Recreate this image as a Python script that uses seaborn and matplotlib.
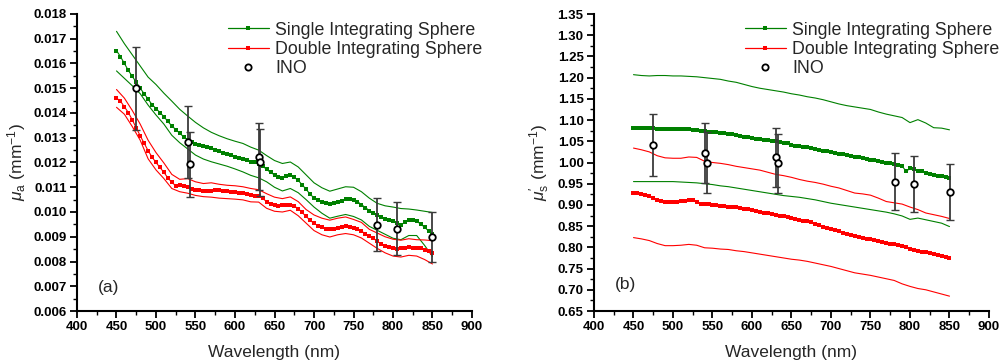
import numpy as np
import pandas as pd
import matplotlib
matplotlib.use("Agg")
import matplotlib.pyplot as plt
from matplotlib.ticker import MultipleLocator, FormatStrFormatter
from matplotlib.lines import Line2D
import seaborn as sns

# ---------------- data ----------------
WL = list(range(450, 855, 5))        # centre curves (marker every 5 nm)
WL_BAND = list(range(450, 860, 10))  # bound curves

# (a) absorption
SIS_A = [0.01652, 0.01628, 0.01600, 0.01572, 0.01548, 0.01524, 0.01500, 0.01478, 0.01456, 0.01434,
         0.01418, 0.01402, 0.01385, 0.01366, 0.01348, 0.01333, 0.01318, 0.01304, 0.01292, 0.01284,
         0.01276, 0.01270, 0.01266, 0.01263, 0.01258, 0.01250, 0.01246, 0.01240, 0.01234, 0.01229,
         0.01224, 0.01220, 0.01216, 0.01210, 0.01204, 0.01200, 0.01195, 0.01186, 0.01172, 0.01160,
         0.01150, 0.01142, 0.01138, 0.01145, 0.01149, 0.01140, 0.01128, 0.01110, 0.01092, 0.01072,
         0.01057, 0.01048, 0.01041, 0.01036, 0.01034, 0.01036, 0.01041, 0.01046, 0.01052, 0.01053,
         0.01048, 0.01042, 0.01030, 0.01018, 0.01006, 0.00996, 0.00988, 0.00978, 0.00970, 0.00966,
         0.00962, 0.00955, 0.00948, 0.00958, 0.00966, 0.00968, 0.00962, 0.00952, 0.00938, 0.00924,
         0.00910]
SIS_A_UP = [0.01730, 0.01680, 0.01635, 0.01590, 0.01545, 0.01515, 0.01480, 0.01448, 0.01415, 0.01388,
            0.01362, 0.01340, 0.01322, 0.01308, 0.01296, 0.01286, 0.01277, 0.01262, 0.01250, 0.01228,
            0.01208, 0.01196, 0.01202, 0.01182, 0.01150, 0.01118, 0.01098, 0.01084, 0.01093, 0.01102,
            0.01100, 0.01082, 0.01056, 0.01035, 0.01025, 0.01020, 0.01014, 0.01012, 0.01008, 0.01003,
            0.00998]
SIS_A_LO = [0.01570, 0.01540, 0.01510, 0.01478, 0.01432, 0.01392, 0.01355, 0.01310, 0.01280, 0.01255,
            0.01230, 0.01214, 0.01203, 0.01194, 0.01185, 0.01174, 0.01162, 0.01148, 0.01138, 0.01122,
            0.01100, 0.01085, 0.01095, 0.01078, 0.01050, 0.01020, 0.00995, 0.00975, 0.00983, 0.00990,
            0.00982, 0.00968, 0.00942, 0.00926, 0.00910, 0.00894, 0.00888, 0.00905, 0.00905, 0.00865,
            0.00820]
DIS_A = [0.01460, 0.01448, 0.01425, 0.01402, 0.01372, 0.01340, 0.01308, 0.01278, 0.01248, 0.01222,
         0.01200, 0.01180, 0.01160, 0.01138, 0.01120, 0.01106, 0.01110, 0.01106, 0.01100, 0.01092,
         0.01088, 0.01087, 0.01086, 0.01085, 0.01086, 0.01087, 0.01087, 0.01086, 0.01084, 0.01081,
         0.01079, 0.01077, 0.01075, 0.01072, 0.01068, 0.01066, 0.01064, 0.01055, 0.01042, 0.01033,
         0.01028, 0.01026, 0.01028, 0.01030, 0.01030, 0.01024, 0.01014, 0.00998, 0.00982, 0.00967,
         0.00954, 0.00945, 0.00938, 0.00932, 0.00930, 0.00932, 0.00937, 0.00941, 0.00942, 0.00940,
         0.00937, 0.00932, 0.00923, 0.00912, 0.00902, 0.00893, 0.00882, 0.00871, 0.00862, 0.00857,
         0.00854, 0.00852, 0.00853, 0.00856, 0.00857, 0.00856, 0.00855, 0.00853, 0.00848, 0.00842,
         0.00836]
DIS_A_UP = [0.01495, 0.01460, 0.01410, 0.01355, 0.01290, 0.01240, 0.01198, 0.01152, 0.01132, 0.01135,
            0.01122, 0.01115, 0.01118, 0.01112, 0.01108, 0.01106, 0.01102, 0.01095, 0.01090, 0.01074,
            0.01060, 0.01054, 0.01061, 0.01042, 0.01010, 0.00988, 0.00975, 0.00967, 0.00975, 0.00980,
            0.00970, 0.00958, 0.00930, 0.00915, 0.00900, 0.00890, 0.00886, 0.00892, 0.00888, 0.00887,
            0.00884]
DIS_A_LO = [0.01423, 0.01395, 0.01345, 0.01290, 0.01215, 0.01170, 0.01135, 0.01095, 0.01082, 0.01076,
            0.01067, 0.01062, 0.01060, 0.01056, 0.01054, 0.01052, 0.01049, 0.01041, 0.01040, 0.01015,
            0.01003, 0.01000, 0.01007, 0.00985, 0.00955, 0.00925, 0.00908, 0.00899, 0.00908, 0.00913,
            0.00908, 0.00895, 0.00874, 0.00853, 0.00835, 0.00822, 0.00818, 0.00825, 0.00822, 0.00808,
            0.00790]
INO_WL_A = [475, 540, 543, 630, 632, 780, 805, 850]
INO_A = [0.01500, 0.01283, 0.01192, 0.01223, 0.01200, 0.00949, 0.00933, 0.00900]
INO_A_ERR = [0.00168, 0.00145, 0.00133, 0.00136, 0.00135, 0.00106, 0.00106, 0.00102]

# (b) reduced scattering
SIS_B = [1.082, 1.081, 1.081, 1.081, 1.081, 1.081, 1.080, 1.080, 1.080, 1.079,
         1.079, 1.079, 1.078, 1.078, 1.078, 1.077, 1.076, 1.075, 1.074, 1.073,
         1.072, 1.071, 1.070, 1.069, 1.067, 1.066, 1.064, 1.063, 1.061, 1.059,
         1.058, 1.056, 1.055, 1.053, 1.052, 1.051, 1.050, 1.049, 1.047, 1.045,
         1.042, 1.040, 1.038, 1.037, 1.036, 1.034, 1.031, 1.030, 1.028, 1.026,
         1.024, 1.022, 1.021, 1.019, 1.017, 1.015, 1.014, 1.012, 1.010, 1.009,
         1.007, 1.005, 1.003, 1.001, 0.999, 0.998, 0.996, 0.994, 0.992, 0.979,
         0.986, 0.984, 0.981, 0.979, 0.976, 0.974, 0.971, 0.968, 0.968, 0.967,
         0.963]
SIS_B_UP = [1.207, 1.205, 1.204, 1.205, 1.205, 1.204, 1.204, 1.203, 1.202, 1.200,
            1.198, 1.196, 1.192, 1.189, 1.184, 1.179, 1.175, 1.172, 1.169, 1.166,
            1.162, 1.159, 1.155, 1.152, 1.148, 1.143, 1.138, 1.134, 1.131, 1.128,
            1.125, 1.119, 1.114, 1.110, 1.106, 1.094, 1.101, 1.093, 1.082, 1.081,
            1.077]
SIS_B_LO = [0.955, 0.955, 0.955, 0.955, 0.955, 0.955, 0.954, 0.953, 0.952, 0.950,
            0.948, 0.945, 0.943, 0.940, 0.937, 0.934, 0.931, 0.928, 0.925, 0.922,
            0.920, 0.918, 0.915, 0.912, 0.908, 0.904, 0.901, 0.898, 0.895, 0.892,
            0.889, 0.886, 0.883, 0.879, 0.874, 0.866, 0.869, 0.865, 0.861, 0.857,
            0.849]
DIS_B = [0.929, 0.927, 0.925, 0.923, 0.920, 0.916, 0.912, 0.909, 0.908, 0.908,
         0.908, 0.908, 0.909, 0.910, 0.911, 0.911, 0.906, 0.902, 0.902, 0.902,
         0.901, 0.900, 0.898, 0.897, 0.896, 0.895, 0.894, 0.893, 0.891, 0.890,
         0.888, 0.886, 0.884, 0.882, 0.881, 0.879, 0.877, 0.875, 0.873, 0.871,
         0.869, 0.867, 0.865, 0.863, 0.861, 0.859, 0.856, 0.852, 0.849, 0.846,
         0.843, 0.841, 0.838, 0.834, 0.831, 0.829, 0.827, 0.825, 0.822, 0.820,
         0.819, 0.817, 0.815, 0.813, 0.811, 0.809, 0.807, 0.805, 0.803, 0.800,
         0.797, 0.794, 0.792, 0.790, 0.788, 0.786, 0.784, 0.782, 0.780, 0.778,
         0.776]
DIS_B_UP = [1.034, 1.030, 1.025, 1.016, 1.011, 1.010, 1.010, 1.013, 1.012, 1.003,
            1.000, 0.998, 0.995, 0.991, 0.988, 0.985, 0.982, 0.977, 0.972, 0.969,
            0.965, 0.960, 0.956, 0.953, 0.949, 0.944, 0.940, 0.934, 0.928, 0.926,
            0.923, 0.916, 0.908, 0.905, 0.902, 0.895, 0.889, 0.881, 0.877, 0.873,
            0.868]
DIS_B_LO = [0.823, 0.820, 0.816, 0.809, 0.804, 0.804, 0.805, 0.807, 0.805, 0.799,
            0.798, 0.796, 0.795, 0.792, 0.790, 0.787, 0.784, 0.781, 0.778, 0.775,
            0.772, 0.770, 0.767, 0.763, 0.759, 0.755, 0.750, 0.745, 0.740, 0.737,
            0.734, 0.730, 0.726, 0.722, 0.714, 0.708, 0.703, 0.700, 0.695, 0.690,
            0.685]
INO_WL_B = [475, 540, 543, 631, 633, 781, 805, 851]
INO_B = [1.041, 1.022, 1.000, 1.012, 0.998, 0.955, 0.949, 0.930]
INO_B_ERR = [0.073, 0.071, 0.071, 0.070, 0.070, 0.067, 0.066, 0.066]

TICK_X = [400, 450, 500, 550, 600, 650, 700, 750, 800, 850, 900]

# ---------------- style ----------------
sns.set_theme(style="ticks")
plt.rcParams["font.family"] = ["Liberation Sans", "DejaVu Sans"]
plt.rcParams["mathtext.fontset"] = "custom"
plt.rcParams["mathtext.rm"] = "Liberation Sans"
plt.rcParams["mathtext.it"] = "Liberation Sans:italic"
plt.rcParams["mathtext.bf"] = "Liberation Sans:bold"

GREEN = "#008000"
RED = "#ff0000"
EBAR = "#3a3a3a"
MS = 2.2

fig = plt.figure(figsize=(10.03, 3.62), dpi=100)
ax_a = fig.add_axes([77 / 1003, 51 / 362, 395 / 1003, 297 / 362])
ax_b = fig.add_axes([594 / 1003, 51 / 362, 395 / 1003, 297 / 362])


def panel(ax, c_s, up_s, lo_s, c_d, up_d, lo_d, ino_x, ino_y, ino_e):
    for y, col in ((up_s, GREEN), (lo_s, GREEN), (up_d, RED), (lo_d, RED)):
        sns.lineplot(x=WL_BAND, y=y, ax=ax, color=col, lw=0.8, estimator=None, sort=False)
    sns.lineplot(x=WL, y=c_s, ax=ax, color=GREEN, lw=0.8, marker="s", markersize=MS,
                 markeredgewidth=0, estimator=None, sort=False)
    sns.lineplot(x=WL, y=c_d, ax=ax, color=RED, lw=0.8, marker="s", markersize=MS,
                 markeredgewidth=0, estimator=None, sort=False)
    ax.errorbar(ino_x, ino_y, yerr=ino_e, fmt="none", ecolor=EBAR, elinewidth=1.3,
                capsize=3, capthick=1.0, zorder=4)
    sns.scatterplot(x=ino_x, y=ino_y, ax=ax, marker="o", s=22, facecolor="white",
                    edgecolor="black", linewidth=1.3, zorder=5)
    ax.set_xlim(400, 900)
    ax.set_xticks(TICK_X)
    ax.xaxis.set_minor_locator(MultipleLocator(25))
    for s in ("top", "right"):
        ax.spines[s].set_visible(False)
    for s in ("left", "bottom"):
        ax.spines[s].set_linewidth(1.5)
        ax.spines[s].set_color("black")
    ax.tick_params(which="major", direction="out", length=5, width=1.3, labelsize=9.5,
                   colors="black", pad=2.5)
    ax.tick_params(which="minor", direction="out", length=3, width=1.0, colors="black")
    for lab in ax.get_xticklabels() + ax.get_yticklabels():
        lab.set_fontweight("bold")
    ax.set_xlabel("Wavelength (nm)", fontsize=12.5, labelpad=8)
    handles = [
        Line2D([], [], color=GREEN, lw=0.9, marker="s", markersize=MS + 0.4, markeredgewidth=0),
        Line2D([], [], color=RED, lw=0.9, marker="s", markersize=MS + 0.4, markeredgewidth=0),
        Line2D([], [], lw=0, marker="o", markersize=4.5, markerfacecolor="white",
               markeredgecolor="black", markeredgewidth=1.3),
    ]
    ax.legend(handles, ["Single Integrating Sphere", "Double Integrating Sphere", "INO"],
              loc="upper left", bbox_to_anchor=(0.355, 1.01), frameon=False, fontsize=12.8,
              handlelength=2.3, handletextpad=0.35, labelspacing=0.12, borderaxespad=0.2)


panel(ax_a, SIS_A, SIS_A_UP, SIS_A_LO, DIS_A, DIS_A_UP, DIS_A_LO, INO_WL_A, INO_A, INO_A_ERR)
ax_a.set_ylim(0.006, 0.018)
ax_a.yaxis.set_major_locator(MultipleLocator(0.001))
ax_a.yaxis.set_minor_locator(MultipleLocator(0.0005))
ax_a.yaxis.set_major_formatter(FormatStrFormatter("%.3f"))
for lab in ax_a.get_yticklabels():
    lab.set_fontweight("bold")
ax_a.set_ylabel(r"$\mu_{\rm a}$ (mm$^{-1}$)", fontsize=12.5, labelpad=4)
ax_a.text(0.053, 0.08, "(a)", transform=ax_a.transAxes, fontsize=12.5, va="center")

panel(ax_b, SIS_B, SIS_B_UP, SIS_B_LO, DIS_B, DIS_B_UP, DIS_B_LO, INO_WL_B, INO_B, INO_B_ERR)
ax_b.set_ylim(0.65, 1.35)
ax_b.yaxis.set_major_locator(MultipleLocator(0.05))
ax_b.yaxis.set_minor_locator(MultipleLocator(0.025))
ax_b.yaxis.set_major_formatter(FormatStrFormatter("%.2f"))
for lab in ax_b.get_yticklabels():
    lab.set_fontweight("bold")
ax_b.set_ylabel(r"$\mu_{\rm s}'$ (mm$^{-1}$)", fontsize=12.5, labelpad=4)
ax_b.text(0.053, 0.09, "(b)", transform=ax_b.transAxes, fontsize=12.5, va="center")

fig.savefig("out.png", dpi=100)
